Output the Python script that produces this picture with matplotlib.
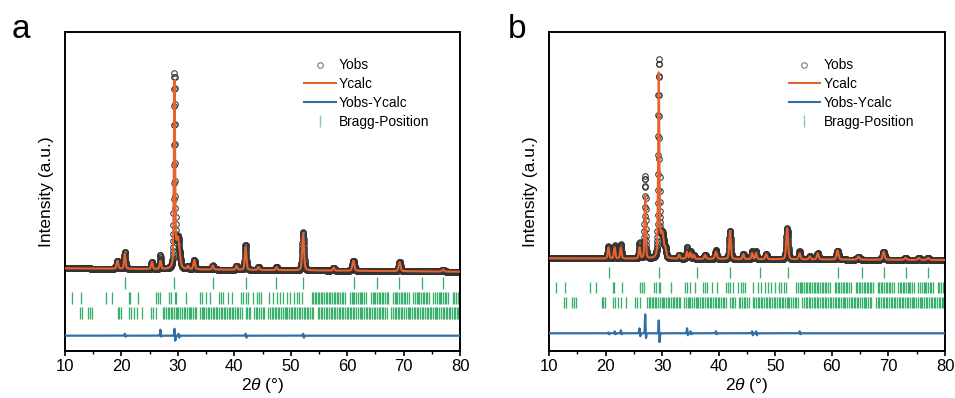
import numpy as np
import matplotlib
matplotlib.use("Agg")
import matplotlib.pyplot as plt
from matplotlib.lines import Line2D

plt.rcParams['font.family'] = ['Liberation Sans', 'DejaVu Sans']
plt.rcParams['mathtext.fontset'] = 'custom'
plt.rcParams['mathtext.it'] = 'Liberation Sans:italic'
plt.rcParams['mathtext.rm'] = 'Liberation Sans'

# ---------------- data ----------------
# panel a: peak positions (deg), calculated heights, FWHM (deg)
peak_pos_a = [19.3, 20.6, 25.4, 26.9, 29.4, 30.0, 31.8, 32.9, 36.2, 40.4, 42.0,
              44.3, 47.5, 52.2, 57.6, 61.1, 69.3, 77.0]
peak_h_a = [8, 15, 7, 8, 184, 30, 3, 9, 4, 4, 23, 3, 3, 36, 3, 10, 9, 2]
peak_w_a = [0.35, 0.3, 0.3, 0.3, 0.26, 0.7, 0.3, 0.35, 0.3, 0.3, 0.33, 0.3,
            0.3, 0.38, 0.3, 0.4, 0.4, 0.4]
baseline_a = [82.7, 79.3]          # left, right
# difference features (pos, positive part, negative part)
diff_pos_a = [20.6, 26.9, 29.4, 30.1, 42.0, 52.2]
diff_up_a = [2, 6, 7, 2, 2, 2]
diff_dn_a = [1, 1, 5, 2, 2, 2]

# panel b
peak_pos_b = [20.5, 21.6, 22.7, 26.0, 27.0, 29.4, 30.0, 30.6, 33.0, 34.4, 35.0,
              35.6, 37.6, 39.5, 42.0, 44.35, 45.9, 46.6, 48.4, 52.1, 54.3, 56.1,
              57.5, 61.0, 64.7, 69.15, 73.0, 75.4, 77.0]
peak_h_b = [11, 11, 11, 11, 63, 182, 25, 7, 4, 7, 6, 4, 4, 7, 28, 5, 6, 6, 5,
            31, 6, 3, 6, 9, 3, 8, 2, 2, 2]
peak_w_b = [0.3, 0.3, 0.3, 0.3, 0.25, 0.26, 0.7, 0.3, 0.3, 0.3, 0.3, 0.3, 0.35,
            0.4, 0.33, 0.3, 0.3, 0.3, 0.35, 0.38, 0.35, 0.35, 0.35, 0.4, 0.4,
            0.4, 0.4, 0.4, 0.4]
baseline_b = [92.7, 91.0]
diff_pos_b = [20.5, 21.6, 22.7, 26.0, 27.0, 29.4, 34.4, 35.0, 39.5, 45.9, 46.6, 54.3]
diff_up_b = [1, 2, 3, 5, 19, 13, 5, 2, 2, 2, 2, 2]
diff_dn_b = [1, 1, 1, 3, 5, 9, 2, 1, 1, 2, 2, 1]

# Bragg positions (three phases)
bragg_1 = [20.62, 29.40, 36.22, 42.03, 47.37, 52.24, 61.13, 65.29, 69.26, 73.18, 77.03]
bragg_2 = [11.30, 12.91, 17.24, 18.25, 21.27, 21.57, 22.99, 26.14, 26.49, 26.85,
           28.51, 28.86, 29.46, 29.70, 31.48, 33.97, 34.33, 34.92, 35.75, 37.29,
           37.65, 38.01, 38.89, 39.67, 41.27, 41.56, 42.03, 42.45, 43.34, 43.94,
           44.35, 44.70, 46.13, 46.90, 47.50, 48.10, 48.68, 49.27, 49.87, 50.64,
           51.05, 51.53, 51.94,
           53.7, 54.0, 54.3, 54.5, 54.8, 55.1, 55.4, 55.6, 55.9, 56.2, 56.5, 56.8,
           57.0, 57.3, 57.6, 57.9, 58.2, 58.4, 58.7, 59.0, 59.3, 59.6,
           60.5, 60.8, 61.1, 61.3, 61.6, 61.9, 62.2, 62.5, 62.7, 63.0, 63.3,
           64.2, 64.5, 64.8, 65.0, 65.3, 65.6, 65.9, 66.2, 66.4, 66.7, 67.0, 67.3,
           68.1, 68.4, 68.7, 68.9, 69.2, 69.5, 69.8, 70.1, 70.3, 70.6, 70.9,
           71.7, 72.0, 72.3, 72.5, 72.8, 73.1, 73.4, 73.7, 73.9, 74.2, 74.5,
           75.3, 75.6, 75.9, 76.2, 76.4, 76.7, 77.0, 77.3, 77.6, 77.8,
           78.7, 79.0, 79.3, 79.6, 79.9]
bragg_3 = [12.61, 12.97, 14.15, 14.45, 14.86, 19.31, 19.61, 19.91, 21.39, 21.69,
           22.28, 22.69, 23.64, 25.25, 25.54, 26.14,
           27.3, 27.6, 27.9, 28.2, 28.4, 28.7, 29.0, 29.3, 29.6, 29.9, 30.1, 30.4,
           30.7, 31.0, 31.3, 31.6, 31.9, 32.1, 32.4, 32.7, 33.0, 33.2,
           33.9, 34.2, 34.5, 34.7, 35.0, 35.3, 35.6, 35.9, 36.2, 36.4, 36.7, 37.0,
           37.3, 37.6, 37.9, 38.1, 38.4, 38.7, 39.0, 39.3, 39.6, 39.8, 40.1, 40.4,
           40.7, 41.0, 41.3, 42.0, 42.3, 42.6, 42.8, 43.5, 43.8, 44.1, 44.4, 44.7,
           45.0, 45.3, 46.0, 46.3, 46.6, 46.9, 47.2, 47.4, 47.7, 48.0, 48.3, 48.6,
           48.9, 49.1, 49.4, 49.7, 50.0, 50.3, 50.6, 50.8, 51.1, 51.4, 51.7, 52.0,
           52.3, 52.5, 52.8, 53.1, 53.4, 53.7, 54.0, 54.8, 55.1, 55.4, 55.6, 55.9,
           56.2, 56.5, 56.8, 57.1, 57.3, 57.6, 57.9, 58.2, 58.5, 58.8, 59.0, 59.3,
           59.6, 59.9, 60.2, 60.5, 60.7, 61.0, 61.3, 61.6, 61.9, 62.2, 62.4, 62.7,
           63.0, 63.3, 63.6, 63.9, 64.1, 64.4, 64.7, 65.0, 65.3, 65.6, 65.8, 66.1,
           66.4, 66.7, 67.0, 67.8, 68.1, 68.4, 68.7, 69.0, 69.2, 69.5, 69.8, 70.1,
           70.4, 70.7, 70.9, 71.2, 71.5, 71.8, 72.1, 72.4, 72.6, 72.9, 73.2, 73.5,
           73.8, 74.1, 74.3, 74.6, 74.9, 75.2, 75.5, 75.8, 76.0, 76.3, 76.6, 76.9,
           77.2, 77.5, 77.7, 78.0, 78.3, 78.6, 78.9, 79.2, 79.4, 79.7, 79.95]

x_ticks = [10, 20, 30, 40, 50, 60, 70, 80]
legend_labels = ['Yobs', 'Ycalc', 'Yobs-Ycalc', 'Bragg-Position']

C_CALC = '#E8622E'
C_DIFF = '#2F6EA6'
C_BRAGG = '#36B06C'
C_OBS = '#333333'

# ---------------- helpers ----------------
x = np.linspace(10, 80, 3501)


def pattern(pos, h, w, base):
    y = np.interp(x, [10, 80], base)
    for c, a, f in zip(pos, h, w):
        hw = f / 2
        lor = 1 / (1 + ((x - c) / hw) ** 2)
        gau = np.exp(-np.log(2) * ((x - c) / hw) ** 2)
        y = y + a * (0.35 * lor + 0.65 * gau)
    return y


def difference(pos, up, dn):
    d = np.zeros_like(x)
    for c, u, v in zip(pos, up, dn):
        d += u * np.exp(-((x - c) / 0.07) ** 2)
        d -= v * np.exp(-((x - c - 0.14) / 0.07) ** 2)
    return d


fig = plt.figure(figsize=(9.55, 3.98), dpi=100)
ax_a = fig.add_axes([65 / 955, 47 / 398, 395 / 955, 319 / 398])
ax_b = fig.add_axes([549 / 955, 47 / 398, 396 / 955, 319 / 398])

panels = [
    (ax_a, peak_pos_a, peak_h_a, peak_w_a, baseline_a, diff_pos_a, diff_up_a, diff_dn_a,
     15.3, [(61.7, 73.7), (47.0, 58.7), (31.7, 43.7)], 'a', 21),
    (ax_b, peak_pos_b, peak_h_b, peak_w_b, baseline_b, diff_pos_b, diff_up_b, diff_dn_b,
     17.7, [(72.7, 84.3), (57.7, 69.3), (42.7, 54.3)], 'b', 517),
]

for (ax, pp, ph, pw, base, dp, du, dd, dbase, rows, lab, lx) in panels:
    calc = pattern(pp, ph, pw, base)
    diff = difference(dp, du, dd)
    obs = calc + diff
    ax.plot(x, obs, linestyle='none', marker='o', ms=4.0, mfc='none',
            mec=C_OBS, mew=0.75, zorder=2)
    ax.plot(x, calc, color=C_CALC, lw=1.5, zorder=3)
    ax.plot(x, dbase + diff, color=C_DIFF, lw=1.6, zorder=3)
    for br, (y0, y1) in zip([bragg_1, bragg_2, bragg_3], rows):
        ax.vlines(br, y0, y1, color=C_BRAGG, lw=0.95, zorder=2)

    ax.set_xlim(10, 80)
    ax.set_ylim(0, 319)
    ax.set_yticks([])
    ax.set_xticks(x_ticks)
    ax.set_xticks(np.arange(15, 80, 10), minor=True)
    ax.tick_params(axis='x', which='major', direction='out', length=3.5, width=1.2,
                   labelsize=12, pad=2.5)
    ax.tick_params(axis='x', which='minor', direction='out', length=2, width=1.0)
    for s in ax.spines.values():
        s.set_linewidth(1.4)
    ax.set_xlabel('2$\\mathit{\\theta}$ (°)', fontsize=12.5, labelpad=1)
    ax.set_ylabel('Intensity (a.u.)', fontsize=12.5, labelpad=8)

    handles = [
        Line2D([], [], linestyle='none', marker='o', ms=4, mfc='none', mec='#777777', mew=0.8),
        Line2D([], [], color=C_CALC, lw=1.5),
        Line2D([], [], color=C_DIFF, lw=1.5),
        Line2D([], [], linestyle='none', marker='|', ms=9, mec='#7ED3A3', mew=1.0),
    ]
    ax.legend(handles, legend_labels, loc='upper left', bbox_to_anchor=(0.605, 0.917),
              frameon=False, fontsize=9.9, handlelength=2.3, handletextpad=0.25,
              labelspacing=0.35, borderpad=0, borderaxespad=0)

    fig.text(lx / 955, 1 - 29 / 398, lab, fontsize=24, ha='center', va='center')

fig.savefig('out.png', dpi=100)
